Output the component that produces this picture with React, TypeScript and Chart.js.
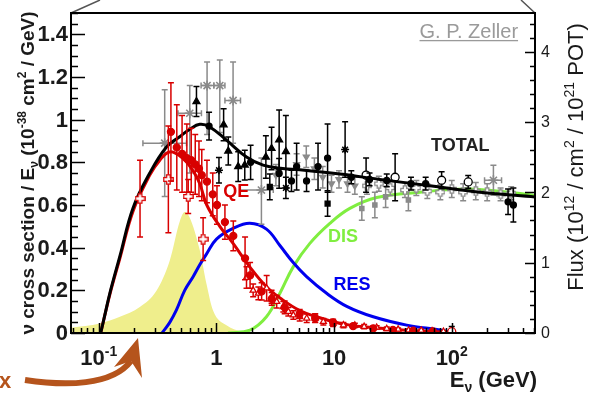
import React, { useEffect, useRef } from "react";
import { Chart, registerables } from "chart.js";

Chart.register(...registerables);

const FONT = '"Liberation Sans", Arial, Helvetica, sans-serif';

// ---------- axis ranges & tick labels ----------
const xMin = 0.058, xMax = 510;
const yMin = 0, yMax = 1.5;
const y2Min = 0, y2Max = 4.55;
const leftTickValues = [0, 0.2, 0.4, 0.6, 0.8, 1, 1.2, 1.4];
const leftTickLabels = ["0", "0.2", "0.4", "0.6", "0.8", "1", "1.2", "1.4"];
const rightTickValues = [0, 1, 2, 3, 4];
const rightTickLabels = ["0", "1", "2", "3", "4"];
const xTickValues = [0.1, 1, 10, 100];
const xTickBase = ["10", "1", "10", "10"];
const xTickSup = ["-1", "", "", "2"];

// ---------- model curves (cross section / E, 1e-38 cm^2/GeV) ----------
const totalE = [0.1037, 0.112, 0.124, 0.151, 0.195, 0.271, 0.376, 0.487, 0.593, 0.721, 0.877, 1.216, 1.8, 2.49, 3.66, 5.11, 11.2, 24.5, 65.3, 174, 511];
const totalXS = [0, 0.08, 0.186, 0.36, 0.585, 0.75, 0.872, 0.92, 0.955, 0.978, 0.966, 0.904, 0.825, 0.787, 0.771, 0.765, 0.745, 0.72, 0.69, 0.66, 0.638];

const qeE = [0.1037, 0.124, 0.151, 0.195, 0.271, 0.33, 0.401, 0.52, 0.633, 0.721, 0.827, 1.067, 1.384, 1.92, 2.66, 3.68, 5.11, 7.1, 9.8, 13.6, 18.8, 36.2, 65.3, 100];
const qeXS = [0, 0.18, 0.35, 0.57, 0.74, 0.81, 0.849, 0.818, 0.76, 0.7, 0.6, 0.5, 0.42, 0.31, 0.217, 0.154, 0.105, 0.076, 0.053, 0.037, 0.028, 0.015, 0.007, 0.003];

const resE = [0.345, 0.401, 0.457, 0.537, 0.633, 0.721, 0.822, 1.0, 1.384, 1.92, 2.66, 3.46, 4.49, 5.83, 8.63, 12.8, 21.5, 41.4, 79.5, 100];
const resXS = [0, 0.05, 0.108, 0.2, 0.264, 0.32, 0.37, 0.44, 0.49, 0.514, 0.487, 0.41, 0.33, 0.264, 0.186, 0.125, 0.076, 0.037, 0.014, 0.003];

const disE = [1.255, 1.92, 2.66, 3.46, 4.49, 6.22, 9.2, 13.6, 23, 53.7, 143, 511];
const disXS = [0, 0.013, 0.076, 0.186, 0.31, 0.42, 0.514, 0.584, 0.635, 0.66, 0.675, 0.645];

// ---------- flux (1e12 / cm^2 / 1e21 POT) ----------
const fluxE = [0.058, 0.102, 0.151, 0.223, 0.309, 0.401, 0.488, 0.537, 0.593, 0.721, 0.822, 0.935, 1.216, 1.67, 2.5];
const fluxVal = [0.075, 0.136, 0.23, 0.37, 0.6, 1.03, 1.59, 1.72, 1.64, 1.18, 0.7, 0.32, 0.11, 0.02, 0];

// ---------- QE data ----------
const qeFillE = [0.41, 0.46, 0.51, 0.56, 0.61, 0.66, 0.71, 0.75, 0.83, 0.93, 1.01, 1.18, 1.39, 1.75, 1.93, 2.42, 2.95, 3.8, 5.1, 6.9, 9.8, 14.5, 21.5, 31.6, 47, 69];
const qeFillY = [0.943, 0.87, 0.84, 0.82, 0.81, 0.79, 0.77, 0.74, 0.71, 0.65, 0.6, 0.52, 0.455, 0.35, 0.27, 0.195, 0.16, 0.12, 0.09, 0.07, 0.05, 0.032, 0.022, 0.014, 0.011, 0.008];
const qeFillErr = [0.23, 0.2, 0.18, 0.16, 0.15, 0.14, 0.13, 0.12, 0.1, 0.1, 0.09, 0.08, 0.07, 0.1, 0.06, 0.04, 0.03, 0.03, 0.02, 0.02, 0.015, 0.01, 0.008, 0.006, 0.005, 0.004];

const qeOpenE = [0.224, 0.39, 0.575, 0.77];
const qeOpenY = [0.63, 0.72, 0.64, 0.44];
const qeOpenErr = [0.18, 0.25, 0.08, 0.1];

const qeTriE = [1.8, 2.05, 2.27, 2.67, 2.94, 3.25, 3.7, 4.08, 4.5, 5.1, 5.85, 6.9, 8.1, 9.8, 12, 15, 18, 23, 28, 35, 43, 55, 68, 85];
const qeTriY = [0.26, 0.2, 0.186, 0.21, 0.17, 0.147, 0.123, 0.1, 0.084, 0.076, 0.069, 0.069, 0.053, 0.045, 0.037, 0.036, 0.03, 0.026, 0.02, 0.017, 0.013, 0.012, 0.009, 0.007];
const qeTriErr = [0.05, 0.03, 0.03, 0.06, 0.03, 0.03, 0.025, 0.02, 0.02, 0.02, 0.02, 0.02, 0.015, 0.015, 0.012, 0.01, 0.01, 0.008, 0.008, 0.007, 0.006, 0.005, 0.005, 0.004];

const qeEndE = [100];
const qeEndY = [0.006];
const qeEndErr = [0.025];

// ---------- total data ----------
const blkTriE = [0.676, 1.15, 1.26, 1.53, 1.74, 2.63, 2.94, 3.41, 3.89];
const blkTriY = [1.085, 0.976, 0.853, 0.78, 0.787, 0.825, 0.865, 0.905, 0.85];
const blkTriErr = [0.07, 0.075, 0.066, 0.07, 0.07, 0.1, 0.1, 0.14, 0.17];

const blkCircE = [0.865, 1.95, 3.41, 4.34, 4.8, 5.83, 7.3, 8.8, 14, 20, 28, 45, 60, 301, 334];
const blkCircY = [0.97, 0.8, 0.748, 0.713, 0.78, 0.713, 0.78, 0.82, 0.73, 0.72, 0.715, 0.7, 0.7, 0.615, 0.6];
const blkCircErr = [0.065, 0.08, 0.07, 0.05, 0.11, 0.05, 0.11, 0.16, 0.03, 0.03, 0.03, 0.03, 0.03, 0.06, 0.08];

const blkSqE = [2.84, 8.8];
const blkSqY = [0.685, 0.607];
const blkSqErr = [0.06, 0.06];

const blkStarE = [1.05, 3.89, 12.4];
const blkStarY = [0.763, 0.68, 0.86];
const blkStarErr = [0.06, 0.05, 0.13];

const blkOpenE = [18.7, 33, 82, 138];
const blkOpenY = [0.74, 0.73, 0.716, 0.708];
const blkOpenErr = [0.08, 0.11, 0.04, 0.03];

const grayStarE = [0.363, 0.593, 0.832, 1.067, 1.384, 2.41, 226];
const grayStarY = [0.89, 1.03, 1.16, 1.16, 1.09, 0.67, 0.716];
const grayStarErrLo = [0.25, 0.28, 0.23, 0.22, 0.2, 0.16, 0.07];
const grayStarErrHi = [0.25, 0.13, 0.11, 0.12, 0.18, 0.15, 0.07];
const grayStarXLo = [0.237, 0.471, 0.74, 0.95, 1.18, 1.58, 190];
const grayStarXHi = [0.556, 0.745, 0.95, 1.18, 1.6, 3.04, 265];

const grayTriE = [3.2, 4.8, 5.8, 6.8, 8, 9.5, 11, 13, 15];
const grayTriY = [0.74, 0.79, 0.826, 0.77, 0.73, 0.7, 0.72, 0.7, 0.69];
const grayTriErr = [0.05, 0.05, 0.05, 0.05, 0.05, 0.04, 0.04, 0.04, 0.04];

const grayCrossE = [19, 24, 30, 40, 50, 62, 80, 100, 125, 160, 200, 260, 320];
const grayCrossY = [0.69, 0.7, 0.68, 0.67, 0.68, 0.665, 0.66, 0.675, 0.66, 0.665, 0.66, 0.65, 0.655];
const grayCrossErr = [0.04, 0.035, 0.035, 0.035, 0.035, 0.035, 0.035, 0.04, 0.04, 0.04, 0.04, 0.03, 0.03];

const graySqE = [17.2, 22.2, 27.4, 42.8];
const graySqY = [0.584, 0.6, 0.638, 0.623];
const graySqErr = [0.055, 0.06, 0.05, 0.05];

// ---------- colours ----------
const RED = "#d80000";
const BLUE = "#0000ee";
const GREEN = "#80ee40";
const YELLOW = "#efee8c";
const GRAY = "#8a8a8a";
const TXT = "#1a1a1a";

type Part = { t: string; k?: "sup" | "sub" };

function drawRich(ctx: CanvasRenderingContext2D, parts: Part[], x: number, y: number, size: number, weight: string, align: "left" | "center" | "right") {
  const fN = `${weight} ${size}px ${FONT}`;
  const fS = `${weight} ${Math.round(size * 0.65)}px ${FONT}`;
  let w = 0;
  for (const p of parts) {
    ctx.font = p.k ? fS : fN;
    w += ctx.measureText(p.t).width;
  }
  let cx = align === "left" ? x : align === "center" ? x - w / 2 : x - w;
  ctx.textAlign = "left";
  ctx.textBaseline = "alphabetic";
  for (const p of parts) {
    ctx.font = p.k ? fS : fN;
    const dy = p.k === "sup" ? -size * 0.42 : p.k === "sub" ? size * 0.22 : 0;
    ctx.fillText(p.t, cx, y + dy);
    cx += ctx.measureText(p.t).width;
  }
}

function hollowCross(color: string, size: number, arm: number) {
  const c = document.createElement("canvas");
  c.width = size;
  c.height = size;
  const g = c.getContext("2d")!;
  const m = size / 2, a = arm / 2, e = 0.8, f = size - 0.8;
  g.beginPath();
  g.moveTo(m - a, e); g.lineTo(m + a, e); g.lineTo(m + a, m - a); g.lineTo(f, m - a);
  g.lineTo(f, m + a); g.lineTo(m + a, m + a); g.lineTo(m + a, f); g.lineTo(m - a, f);
  g.lineTo(m - a, m + a); g.lineTo(e, m + a); g.lineTo(e, m - a); g.lineTo(m - a, m - a);
  g.closePath();
  g.fillStyle = "#fff";
  g.fill();
  g.strokeStyle = color;
  g.lineWidth = 1.3;
  g.stroke();
  return c;
}

const errorBarPlugin = {
  id: "errorBars",
  beforeDatasetDraw(chart: any, args: any) {
    const ds: any = chart.data.datasets[args.index];
    if (!ds.errLo) return;
    const ctx: CanvasRenderingContext2D = chart.ctx;
    const xs = chart.scales.x;
    const ys = chart.scales[ds.yAxisID || "y"];
    const a = chart.chartArea;
    ctx.save();
    ctx.beginPath();
    ctx.rect(a.left, a.top, a.right - a.left, a.bottom - a.top);
    ctx.clip();
    ctx.strokeStyle = ds.errColor;
    ctx.lineWidth = 1.5;
    const cap = 3;
    ds.data.forEach((p: any, i: number) => {
      const px = xs.getPixelForValue(p.x);
      const py = ys.getPixelForValue(p.y);
      const y1 = ys.getPixelForValue(p.y + ds.errHi[i]);
      const y0 = ys.getPixelForValue(p.y - ds.errLo[i]);
      ctx.beginPath();
      ctx.moveTo(px, y1); ctx.lineTo(px, y0);
      ctx.moveTo(px - cap, y1); ctx.lineTo(px + cap, y1);
      ctx.moveTo(px - cap, y0); ctx.lineTo(px + cap, y0);
      if (ds.xLo) {
        const x0 = xs.getPixelForValue(ds.xLo[i]);
        const x1 = xs.getPixelForValue(ds.xHi[i]);
        ctx.moveTo(x0, py); ctx.lineTo(x1, py);
        ctx.moveTo(x0, py - cap); ctx.lineTo(x0, py + cap);
        ctx.moveTo(x1, py - cap); ctx.lineTo(x1, py + cap);
      }
      ctx.stroke();
    });
    ctx.restore();
  },
};

const decoPlugin = {
  id: "deco",
  afterDraw(chart: any) {
    const ctx: CanvasRenderingContext2D = chart.ctx;
    const a = chart.chartArea;
    const xs = chart.scales.x, ys = chart.scales.y, y2 = chart.scales.y2;
    ctx.save();

    // callout lines at top corners
    ctx.strokeStyle = "#555";
    ctx.lineWidth = 1.5;
    ctx.beginPath();
    ctx.moveTo(a.left, a.top); ctx.lineTo(a.left + 29, 0);
    ctx.moveTo(a.right, a.top); ctx.lineTo(a.right - 14, 0);
    ctx.stroke();

    // ticks
    ctx.strokeStyle = "#000";
    ctx.lineWidth = 1.5;
    ctx.beginPath();
    for (let k = 0; k <= 30; k++) {
      const v = k * 0.05;
      const py = Math.round(ys.getPixelForValue(v)) + 0.5;
      const len = k % 4 === 0 ? 14 : 7;
      ctx.moveTo(a.left, py); ctx.lineTo(a.left + len, py);
    }
    for (let k = 0; k <= 22; k++) {
      const v = k * 0.2;
      const py = Math.round(y2.getPixelForValue(v)) + 0.5;
      const len = k % 5 === 0 ? 10 : 5;
      ctx.moveTo(a.right - len, py); ctx.lineTo(a.right, py);
    }
    for (let d = -2; d <= 2; d++) {
      for (let m = 1; m <= 9; m++) {
        const v = m * Math.pow(10, d);
        if (v < xMin || v > xMax) continue;
        const px = Math.round(xs.getPixelForValue(v)) + 0.5;
        const len = m === 1 ? 10 : 5;
        ctx.moveTo(px, a.bottom); ctx.lineTo(px, a.bottom - len);
      }
    }
    ctx.stroke();

    // frame
    ctx.lineWidth = 2;
    ctx.strokeRect(a.left, a.top, a.right - a.left, a.bottom - a.top);

    // tick labels
    ctx.fillStyle = TXT;
    ctx.font = `bold 22px ${FONT}`;
    ctx.textAlign = "right";
    ctx.textBaseline = "middle";
    leftTickValues.forEach((v, i) => {
      ctx.fillText(leftTickLabels[i], a.left - 3, ys.getPixelForValue(v) + 1);
    });
    ctx.font = `16px ${FONT}`;
    ctx.textAlign = "left";
    rightTickValues.forEach((v, i) => {
      ctx.fillText(rightTickLabels[i], a.right + 6, y2.getPixelForValue(v) + 1);
    });
    xTickValues.forEach((v, i) => {
      const parts: Part[] = [{ t: xTickBase[i] }];
      if (xTickSup[i]) parts.push({ t: xTickSup[i], k: "sup" });
      drawRich(ctx, parts, xs.getPixelForValue(v), a.bottom + 32, 22, "bold", "center");
    });

    // axis titles
    drawRich(ctx, [{ t: "E" }, { t: "ν", k: "sub" }, { t: " (GeV)" }], a.right + 2, a.bottom + 54, 22, "bold", "right");

    ctx.save();
    ctx.translate(34, (a.top + a.bottom) / 2);
    ctx.rotate(-Math.PI / 2);
    drawRich(ctx, [
      { t: "ν cross section / E" }, { t: "ν", k: "sub" }, { t: " (10" }, { t: "-38", k: "sup" },
      { t: " cm" }, { t: "2", k: "sup" }, { t: " / GeV)" },
    ], 0, 0, 19, "bold", "center");
    ctx.restore();

    ctx.save();
    ctx.translate(583, 157);
    ctx.rotate(-Math.PI / 2);
    drawRich(ctx, [
      { t: "Flux (10" }, { t: "12", k: "sup" }, { t: " / cm" }, { t: "2", k: "sup" },
      { t: " / 10" }, { t: "21", k: "sup" }, { t: " POT)" },
    ], 0, 0, 22, "normal", "center");
    ctx.restore();

    // curve labels (anchored in data coordinates)
    const labels = [
      { t: "QE", e: 1.47, v: 0.666, c: RED },
      { t: "DIS", e: 11.9, v: 0.455, c: GREEN },
      { t: "RES", e: 14.2, v: 0.23, c: BLUE },
      { t: "TOTAL", e: 118, v: 0.88, c: "#222" },
    ];
    ctx.font = `bold 18px ${FONT}`;
    ctx.textAlign = "center";
    ctx.textBaseline = "middle";
    labels.forEach((l) => {
      ctx.fillStyle = l.c;
      ctx.fillText(l.t, xs.getPixelForValue(l.e), ys.getPixelForValue(l.v) + 1);
    });

    // author credit
    ctx.font = `20px ${FONT}`;
    ctx.fillStyle = "#9a9a9a";
    ctx.textAlign = "right";
    ctx.textBaseline = "alphabetic";
    const zx = xs.getPixelForValue(366), zy = ys.getPixelForValue(1.383);
    ctx.fillText("G. P. Zeller", zx, zy);
    const zw = ctx.measureText("G. P. Zeller").width;
    ctx.fillRect(zx - zw, zy + 2, zw, 1.3);

    // orange arrow + "x"
    const OR = "#b5541c";
    ctx.fillStyle = OR;
    ctx.font = `bold 22px ${FONT}`;
    ctx.textAlign = "left";
    ctx.fillText("x", -1, 388);
    ctx.strokeStyle = OR;
    ctx.lineWidth = 6;
    ctx.beginPath();
    ctx.moveTo(25, 380);
    ctx.bezierCurveTo(65, 386, 112, 386, 131, 361);
    ctx.stroke();
    ctx.beginPath();
    ctx.moveTo(138, 338);
    ctx.lineTo(114, 367);
    ctx.lineTo(131, 361);
    ctx.lineTo(142, 378);
    ctx.closePath();
    ctx.fill();

    ctx.restore();
  },
};

export default function App() {
  const ref = useRef<HTMLCanvasElement>(null);
  useEffect(() => {
    const canvas = ref.current!;
    const redCross = hollowCross(RED, 11, 3.6);
    const grayCross = hollowCross(GRAY, 10, 3.4);
    const pts = (E: number[], Y: number[]) => E.map((e, i) => ({ x: e, y: Y[i] }));
    const curve = (E: number[], Y: number[], color: string, order: number) => ({
      type: "line", data: pts(E, Y), borderColor: color, borderWidth: 3, pointRadius: 0,
      tension: 0.4, fill: false, order, yAxisID: "y",
    });
    const points = (E: number[], Y: number[], lo: number[], hi: number[], order: number, opts: any) => ({
      type: "line", showLine: false, data: pts(E, Y), errLo: lo, errHi: hi, order, yAxisID: "y",
      pointBorderWidth: 1.3, ...opts,
    });

    const datasets: any[] = [
      {
        type: "line", data: pts(fluxE, fluxVal), yAxisID: "y2", fill: "origin",
        backgroundColor: YELLOW, borderColor: "rgba(0,0,0,0)", borderWidth: 0, pointRadius: 0,
        cubicInterpolationMode: "monotone", order: 100,
      },
      curve(disE, disXS, GREEN, 90),
      curve(resE, resXS, BLUE, 80),
      points(graySqE, graySqY, graySqErr, graySqErr, 72, { errColor: GRAY, pointStyle: "rect", pointRadius: 3, pointBackgroundColor: GRAY, pointBorderColor: GRAY }),
      points(grayTriE, grayTriY, grayTriErr, grayTriErr, 72, { errColor: GRAY, pointStyle: "triangle", pointRotation: 180, pointRadius: 3.5, pointBackgroundColor: GRAY, pointBorderColor: GRAY }),
      points(grayCrossE, grayCrossY, grayCrossErr, grayCrossErr, 71, { errColor: GRAY, pointStyle: grayCross }),
      points(grayStarE, grayStarY, grayStarErrLo, grayStarErrHi, 70, { errColor: GRAY, xLo: grayStarXLo, xHi: grayStarXHi, pointStyle: "star", pointRadius: 5, pointBorderColor: GRAY, pointBorderWidth: 1.6 }),
      points(blkSqE, blkSqY, blkSqErr, blkSqErr, 62, { errColor: "#000", pointStyle: "rect", pointRadius: 3.5, pointBackgroundColor: "#000", pointBorderColor: "#000" }),
      points(blkStarE, blkStarY, blkStarErr, blkStarErr, 62, { errColor: "#000", pointStyle: "star", pointRadius: 4, pointBorderColor: "#000", pointBorderWidth: 1.5 }),
      points(blkCircE, blkCircY, blkCircErr, blkCircErr, 61, { errColor: "#000", pointStyle: "circle", pointRadius: 3, pointBackgroundColor: "#000", pointBorderColor: "#000" }),
      points(blkOpenE, blkOpenY, blkOpenErr, blkOpenErr, 61, { errColor: "#000", pointStyle: "circle", pointRadius: 4, pointBackgroundColor: "#fff", pointBorderColor: "#000" }),
      points(blkTriE, blkTriY, blkTriErr, blkTriErr, 60, { errColor: "#000", pointStyle: "triangle", pointRadius: 4, pointBackgroundColor: "#000", pointBorderColor: "#000" }),
      curve(qeE, qeXS, RED, 52),
      curve(totalE, totalXS, "#000", 50),
      points(qeTriE, qeTriY, qeTriErr, qeTriErr, 42, { errColor: RED, pointStyle: "triangle", pointRadius: 3.5, pointBackgroundColor: "#fff", pointBorderColor: RED }),
      points(qeOpenE, qeOpenY, qeOpenErr, qeOpenErr, 41, { errColor: RED, pointStyle: redCross }),
      points(qeFillE, qeFillY, qeFillErr, qeFillErr, 40, { errColor: RED, pointStyle: "circle", pointRadius: 3.5, pointBackgroundColor: RED, pointBorderColor: RED }),
      points(qeEndE, qeEndY, qeEndErr, qeEndErr, 39, { errColor: "#000", pointStyle: "circle", pointRadius: 4, pointBackgroundColor: "#fff", pointBorderColor: RED }),
    ];

    const chart = new Chart(canvas, {
      type: "line",
      data: { datasets },
      options: {
        responsive: false,
        animation: false,
        devicePixelRatio: 1,
        layout: { padding: { left: 71, right: 61, top: 13, bottom: 67 } },
        plugins: { legend: { display: false }, tooltip: { enabled: false } },
        scales: {
          x: { type: "logarithmic", min: xMin, max: xMax, display: false },
          y: { type: "linear", min: yMin, max: yMax, display: false },
          y2: { type: "linear", position: "right", min: y2Min, max: y2Max, display: false },
        },
      } as any,
      plugins: [errorBarPlugin, decoPlugin],
    } as any);
    return () => chart.destroy();
  }, []);

  return (
    <div style={{ position: "absolute", left: 0, top: 0, width: 596, height: 400, background: "#fff" }}>
      <canvas ref={ref} width={596} height={400} />
    </div>
  );
}
